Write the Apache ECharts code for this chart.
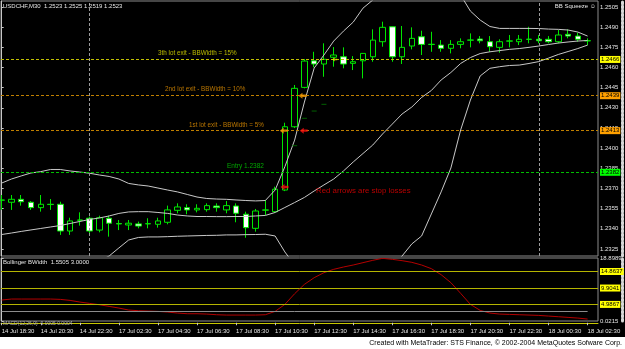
<!DOCTYPE html>
<html><head><meta charset="utf-8">
<script src="https://cdn.jsdelivr.net/npm/echarts@6/dist/echarts.min.js"></script>
<style>html,body{margin:0;padding:0;background:#000;}#c{width:625px;height:349px;}</style>
</head><body><div id="c"></div>
<script>
// ---------------- data ----------------
const times = [
 '14 Jul 18:30','14 Jul 19:00','14 Jul 19:30','14 Jul 20:00','14 Jul 20:30','14 Jul 21:00','14 Jul 21:30','14 Jul 22:00','14 Jul 22:30',
 '17 Jul 00:00','17 Jul 01:30','17 Jul 02:00','17 Jul 02:30','17 Jul 03:00','17 Jul 03:30','17 Jul 04:00','17 Jul 04:30','17 Jul 05:00',
 '17 Jul 05:30','17 Jul 06:00','17 Jul 06:30','17 Jul 07:00','17 Jul 07:30','17 Jul 08:00','17 Jul 08:30','17 Jul 09:00','17 Jul 09:30',
 '17 Jul 10:00','17 Jul 10:30','17 Jul 11:00','17 Jul 11:30','17 Jul 12:00','17 Jul 12:30','17 Jul 13:00','17 Jul 13:30','17 Jul 14:00',
 '17 Jul 14:30','17 Jul 15:00','17 Jul 15:30','17 Jul 16:00','17 Jul 16:30','17 Jul 17:00','17 Jul 17:30','17 Jul 18:00','17 Jul 18:30',
 '17 Jul 19:00','17 Jul 19:30','17 Jul 20:00','17 Jul 20:30','17 Jul 21:00','17 Jul 21:30','17 Jul 22:00','17 Jul 22:30','17 Jul 23:00',
 '17 Jul 23:30','18 Jul 00:00','18 Jul 00:30','18 Jul 01:00','18 Jul 01:30','18 Jul 02:00','18 Jul 02:30'
];
const opens = [1.23612,1.23597,1.23619,1.23597,1.23557,1.23582,1.23582,1.23383,1.23463,1.23478,1.23390,1.23478,1.23438,1.23428,1.23436,1.23436,1.23433,1.23448,1.23537,1.23557,1.23540,1.23542,1.23569,1.23540,1.23569,1.23508,1.23403,1.23538,1.23527,1.23688,1.24159,1.24452,1.24650,1.24626,1.24676,1.24680,1.24631,1.24650,1.24680,1.24792,1.24903,1.24680,1.24760,1.24829,1.24771,1.24767,1.24743,1.24772,1.24803,1.24812,1.24792,1.24750,1.24796,1.24792,1.24809,1.24810,1.24810,1.24792,1.24847,1.24834,1.24798];
const closes = [1.23614,1.23619,1.23601,1.23557,1.23582,1.23580,1.23383,1.23458,1.23465,1.23383,1.23482,1.23441,1.23436,1.23441,1.23420,1.23438,1.23458,1.23540,1.23562,1.23540,1.23552,1.23572,1.23557,1.23572,1.23515,1.23408,1.23532,1.23540,1.23694,1.24159,1.24445,1.24648,1.24626,1.24661,1.24693,1.24626,1.24643,1.24705,1.24804,1.24899,1.24680,1.24750,1.24817,1.24772,1.24773,1.24743,1.24772,1.24792,1.24805,1.24799,1.24755,1.24792,1.24798,1.24810,1.24811,1.24799,1.24792,1.24842,1.24834,1.24810,1.24800];
const lows = [1.23540,1.23540,1.23572,1.23540,1.23527,1.23540,1.23354,1.23354,1.23423,1.23366,1.23373,1.23341,1.23390,1.23390,1.23403,1.23403,1.23408,1.23433,1.23515,1.23508,1.23522,1.23527,1.23527,1.23515,1.23448,1.23333,1.23378,1.23502,1.23520,1.23680,1.24150,1.24445,1.24601,1.24531,1.24606,1.24594,1.24581,1.24519,1.24643,1.24755,1.24643,1.24626,1.24735,1.24693,1.24717,1.24717,1.24705,1.24743,1.24750,1.24780,1.24717,1.24710,1.24750,1.24767,1.24780,1.24780,1.24780,1.24780,1.24817,1.24792,1.24767];
const highs = [1.23651,1.23651,1.23651,1.23606,1.23651,1.23621,1.23601,1.23482,1.23522,1.23490,1.23497,1.23497,1.23465,1.23465,1.23453,1.23478,1.23482,1.23572,1.23589,1.23582,1.23582,1.23589,1.23589,1.23606,1.23589,1.23527,1.23547,1.23614,1.23713,1.24189,1.24470,1.24663,1.24717,1.24780,1.24752,1.24750,1.24685,1.24708,1.24884,1.24941,1.24906,1.24909,1.24899,1.24874,1.24866,1.24804,1.24804,1.24817,1.24854,1.24834,1.24834,1.24810,1.24842,1.24842,1.24903,1.24842,1.24834,1.24879,1.24884,1.24859,1.24817];
const bbUpper = [1.23740,1.23770,1.23793,1.23815,1.23825,1.23841,1.23841,1.23830,1.23822,1.23813,1.23800,1.23789,1.23770,1.23737,1.23726,1.23718,1.23703,1.23688,1.23674,1.23655,1.23636,1.23625,1.23621,1.23619,1.23614,1.23610,1.23607,1.23610,1.23688,1.23862,1.24060,1.24343,1.24596,1.24693,1.24797,1.24871,1.24938,1.25042,1.25102,1.25184,1.25251,1.25310,1.25348,1.25385,1.25348,1.25340,1.25273,1.25139,1.25020,1.24953,1.24905,1.24891,1.24891,1.24891,1.24891,1.24890,1.24886,1.24884,1.24879,1.24864,1.24834];
const bbMiddle = [1.23357,1.23368,1.23380,1.23391,1.23402,1.23413,1.23424,1.23439,1.23454,1.23469,1.23480,1.23495,1.23514,1.23525,1.23527,1.23527,1.23521,1.23514,1.23502,1.23495,1.23491,1.23491,1.23490,1.23490,1.23491,1.23491,1.23495,1.23499,1.23521,1.23558,1.23595,1.23633,1.23681,1.23726,1.23770,1.23830,1.23897,1.23960,1.24023,1.24105,1.24179,1.24254,1.24306,1.24377,1.24429,1.24507,1.24563,1.24630,1.24674,1.24704,1.24717,1.24726,1.24735,1.24741,1.24750,1.24760,1.24771,1.24782,1.24790,1.24797,1.24801];
const bbLower = [1.22974,1.22967,1.22967,1.22967,1.22979,1.22985,1.23008,1.23049,1.23086,1.23125,1.23160,1.23197,1.23257,1.23316,1.23335,1.23339,1.23339,1.23341,1.23344,1.23346,1.23348,1.23350,1.23351,1.23354,1.23354,1.23356,1.23357,1.23359,1.23346,1.23227,1.23130,1.22922,1.22766,1.22758,1.22744,1.22788,1.22855,1.22878,1.22944,1.23026,1.23108,1.23197,1.23287,1.23346,1.23510,1.23674,1.23852,1.24135,1.24358,1.24537,1.24594,1.24606,1.24615,1.24618,1.24630,1.24644,1.24670,1.24697,1.24719,1.24741,1.24767];
const bbWidth = [6.3,6.6,6.6,6.6,6.6,6.6,6.5,6.2,5.7,5.3,4.9,4.4,3.9,3.3,3.1,3.0,2.9,2.7,2.4,2.2,2.2,2.1,1.9,1.8,1.8,1.8,1.8,1.9,2.9,5.0,8.2,11.0,13.0,14.5,15.5,16.2,16.8,17.5,18.2,18.8,18.5,18.1,17.6,16.8,15.7,13.9,11.5,8.3,5.0,3.2,2.4,2.1,2.0,1.9,1.8,1.7,1.5,1.3,1.1,0.9,0.6];
const trailIdx = [30,31,32,33];
const trailStop = [1.24018,1.24222,1.24276,1.24326];
const priceTicks = [1.2505,1.2490,1.2475,1.2460,1.2445,1.2430,1.2415,1.2400,1.2385,1.2370,1.2355,1.2340,1.2325];
const levels = [1.2466,1.2439,1.2413,1.2382];
const bwTicks = [18.8989,0.0215];
const bwLevels = [14.8637,9.9041,4.9867];
const bwThreshold = 3.0;
const separatorIdx = [9,55];
const timeTickIdx = [0,4,8,12,16,20,24,28,32,36,40,44,48,52,56,60];
const notes = [
 {text:'3th lot exit - BBWidth = 15%', x:16.0, p:1.24708, kind:'yellow'},
 {text:'2nd lot exit - BBWidth = 10%', x:16.72, p:1.24438, kind:'orange'},
 {text:'1st lot exit - BBWidth = 5%', x:19.18, p:1.24172, kind:'orange'},
 {text:'Entry 1.2382', x:23.07, p:1.23867, kind:'green'},
 {text:'Red arrows are stop losses', x:32.19, p:1.23683, kind:'red'}
];
const arrows = [
 {x:28.88, p:1.2413, kind:'orange'},
 {x:30.8, p:1.2439, kind:'orange'},
 {x:34.1, p:1.2466, kind:'yellow'},
 {x:30.93, p:1.2413, kind:'red'},
 {x:28.96, p:1.23711, kind:'red'}
];
const titleText = 'USDCHF,M30  1.2523 1.2525 1.2519 1.2523';
const bwTitle = 'Bollinger BWidth  1.5505 3.0000';
const macdTitle = 'MACD(12,26,9)  0.0005 0.0004';
const footerText = 'Created with MetaTrader: STS Finance, \u00a9 2002-2004 MetaQuotes Sofware Corp.';

// ---------------- styles ----------------
const hasNarrow = (() => {
  const ctx = document.createElement('canvas').getContext('2d');
  const s = 'abcdefghijklmnopqrstuvwxyz0123456789';
  ctx.font = '20px monospace'; const a = ctx.measureText(s).width;
  ctx.font = "20px 'Liberation Sans Narrow', monospace"; const b = ctx.measureText(s).width;
  return Math.abs(a - b) > 1;
})();
const BASEFONT = "'Liberation Sans', Arial, sans-serif";
const AXFONT = hasNarrow ? "'Liberation Sans Narrow', 'Liberation Sans', Arial, sans-serif" : BASEFONT;
const AXSIZE = hasNarrow ? 7 : 6;
const NOTESIZE = {yellow:6.3, orange:6.3, green:6.5, red:7.8};
const COL = {yellow:'#e0e000', orange:'#e89400', green:'#00d000', red:'#e80000'};
const BOX = ['#ffff00','#ffa000','#ffa000','#00ff00'];
const LVLC = ['#c0c000','#c08000','#c08000','#00c000'];
const ARROWCOL = {orange:'#ffa000', yellow:'#e6e600', red:'#ff1010'};
const XMIN = -0.072, XMAX = 61.065;
const PMIN = 1.23197, PMAX = 1.25095;
const arrowPath = 'path://M0,5L5,0L5,3L10,3L10,7L5,7L5,10Z';

const chart = echarts.init(document.getElementById('c'), null, {renderer:'canvas'});
const txt = {fontFamily: AXFONT, fontSize: AXSIZE};

chart.setOption({
  animation: false,
  backgroundColor: '#000000',
  grid: [
    {left:1, top:1, width:597, height:255, show:true, borderColor:'#8c8c8c', borderWidth:1, backgroundColor:'#000', outerBoundsMode:'none'},
    {left:1, top:258, width:597, height:63, show:true, borderColor:'#8c8c8c', borderWidth:1, backgroundColor:'#000', outerBoundsMode:'none'},
    {left:1, top:320, width:597, height:5.5, show:false, outerBoundsMode:'none'}
  ],
  xAxis: [
    {gridIndex:0, type:'value', min:XMIN, max:XMAX, show:false},
    {gridIndex:1, type:'value', min:XMIN, max:XMAX, show:false},
    {gridIndex:2, type:'value', min:XMIN, max:XMAX, position:'bottom',
     axisLine:{show:true, lineStyle:{color:'#c8c800', width:1}}, splitLine:{show:false},
     axisTick:{show:true, customValues:timeTickIdx, inside:false, length:2.5, lineStyle:{color:'#c8c8c8'}},
     axisLabel:{customValues:timeTickIdx, formatter:v=>times[Math.round(v)], align:'left', color:'#e6e6e6', margin:2.5, ...txt}}
  ],
  yAxis: [
    {gridIndex:0, type:'value', position:'right', min:PMIN, max:PMAX, scale:true,
     splitLine:{show:false}, axisLine:{show:true, lineStyle:{color:'#c8c8c8'}},
     axisTick:{show:true, customValues:priceTicks, length:2, lineStyle:{color:'#c8c8c8'}},
     axisLabel:{customValues:priceTicks, formatter:v=>v.toFixed(4), color:'#e6e6e6', margin:2, ...txt}},
    {gridIndex:1, type:'value', position:'right', min:0.0215, max:18.8989, scale:true,
     splitLine:{show:false}, axisLine:{show:true, lineStyle:{color:'#c8c8c8'}},
     axisTick:{show:true, customValues:bwTicks, length:2, lineStyle:{color:'#c8c8c8'}},
     axisLabel:{customValues:bwTicks, formatter:v=>v.toFixed(4), color:'#e6e6e6', margin:2, ...txt}},
    {gridIndex:2, type:'value', min:-1, max:1, show:false},
    {gridIndex:0, type:'value', position:'right', offset:24.5, min:PMIN, max:PMAX, scale:true,
     splitLine:{show:false}, axisTick:{show:false}, axisLabel:{show:false},
     axisLine:{show:true, lineStyle:{color:'#d8d8d8', width:3, type:[2,2]}}},
    {gridIndex:1, type:'value', position:'right', offset:24.5, min:0.0215, max:18.8989, scale:true,
     splitLine:{show:false}, axisTick:{show:false}, axisLabel:{show:false},
     axisLine:{show:true, lineStyle:{color:'#d8d8d8', width:3, type:[2,2]}}}
  ],
  series: [
    {
      type:'candlestick', xAxisIndex:0, yAxisIndex:0, z:2,
      data: opens.map((o,i)=>[i, o, closes[i], lows[i], highs[i]]),
      encode:{x:0, y:[1,2,3,4]},
      barWidth:6,
      itemStyle:{color:'#000000', color0:'#ffffff', borderColor:'#00e600', borderColor0:'#00e600', borderColorDoji:'#00e600', borderWidth:1},
      markLine:{
        symbol:['none','none'], silent:true, animation:false,
        data: levels.map((v,k)=>[
            {coord:[XMIN, v], lineStyle:{color:LVLC[k], type:[3,2], width:1},
             label:{show:true, position:'end', distance:2, formatter:v.toFixed(4), color:'#000',
                    backgroundColor:BOX[k], padding:[1,1,0,1], ...txt}},
            {coord:[XMAX, v]}])
          .concat(separatorIdx.map(i=>[
            {coord:[i, PMIN], lineStyle:{color:'#9a9a9a', type:[3,2], width:1}, label:{show:false}},
            {coord:[i, PMAX]}]))
      }
    },
    {type:'line', xAxisIndex:0, yAxisIndex:0, z:3, showSymbol:false, silent:true,
     data: bbUpper.map((v,i)=>[i,v]), lineStyle:{color:'#c8c8c8', width:1}},
    {type:'line', xAxisIndex:0, yAxisIndex:0, z:3, showSymbol:false, silent:true,
     data: bbMiddle.map((v,i)=>[i,v]), lineStyle:{color:'#c8c8c8', width:1}},
    {type:'line', xAxisIndex:0, yAxisIndex:0, z:3, showSymbol:false, silent:true,
     data: bbLower.map((v,i)=>[i,v]), lineStyle:{color:'#c8c8c8', width:1}},
    {type:'scatter', xAxisIndex:0, yAxisIndex:0, z:4, silent:true,
     symbol:'rect', symbolSize:[5,1], itemStyle:{color:'#007800'},
     data: trailIdx.map((x,k)=>[x, trailStop[k]])},
    {type:'scatter', xAxisIndex:0, yAxisIndex:0, z:6, silent:true,
     symbol:arrowPath,
     data: arrows.map(a=>({value:[a.x,a.p], symbolSize: a.kind==='yellow'?[5,4]:[8,6], itemStyle:{color:ARROWCOL[a.kind]}}))},
    {type:'scatter', xAxisIndex:0, yAxisIndex:0, z:7, silent:true,
     symbolSize:0.1, itemStyle:{color:'transparent'},
     data: notes.map(n=>({name:n.text, value:[n.x,n.p],
       label:{show:true, position:'right', distance:0, formatter:'{b}', color:COL[n.kind],
              fontFamily:BASEFONT, fontSize:NOTESIZE[n.kind]}}))},
    // lower panel
    {type:'line', xAxisIndex:1, yAxisIndex:1, z:3, showSymbol:false, silent:true,
     data: bbWidth.map((v,i)=>[i,v]), lineStyle:{color:'#b40000', width:1},
     markLine:{
       symbol:['none','none'], silent:true, animation:false,
       data: bwLevels.map(v=>({yAxis:v, lineStyle:{color:'#b4b400', type:'solid', width:1},
          label:{show:true, position:'end', distance:2, formatter:v.toFixed(4), color:'#000',
                 backgroundColor:'#ffff00', padding:[1,1,0,1], ...txt}}))
         .concat([[{coord:[0,bwThreshold], lineStyle:{color:'#8c8c8c', type:'solid', width:1}, label:{show:false}}, {coord:[60,bwThreshold]}]])
     }}
  ],
  graphic: [
    {type:'text', x:3, y:6, z:100, style:{text:titleText, fill:'#e6e6e6', fontFamily:AXFONT, fontSize:AXSIZE, align:'left', verticalAlign:'middle'}},
    {type:'text', x:596, y:6, z:100, style:{text:'BB Squeeze \u263A', fill:'#e6e6e6', fontFamily:AXFONT, fontSize:AXSIZE, align:'right', verticalAlign:'middle'}},
    {type:'text', x:3, y:262.5, z:100, style:{text:bwTitle, fill:'#e6e6e6', fontFamily:AXFONT, fontSize:AXSIZE, align:'left', verticalAlign:'middle'}},
    {type:'text', x:3, y:324, z:100, style:{text:macdTitle, fill:'#b4b4b4', fontFamily:AXFONT, fontSize:AXSIZE-1, align:'left', verticalAlign:'middle'}},
    {type:'rect', z:100, shape:{x:0, y:337, width:625, height:12}, style:{fill:'#ffffff'}},
    {type:'text', x:622, y:343.5, z:101, style:{text:footerText, fill:'#000000', fontFamily:BASEFONT, fontSize:7, align:'right', verticalAlign:'middle'}}
  ]
});
</script>
</body></html>
